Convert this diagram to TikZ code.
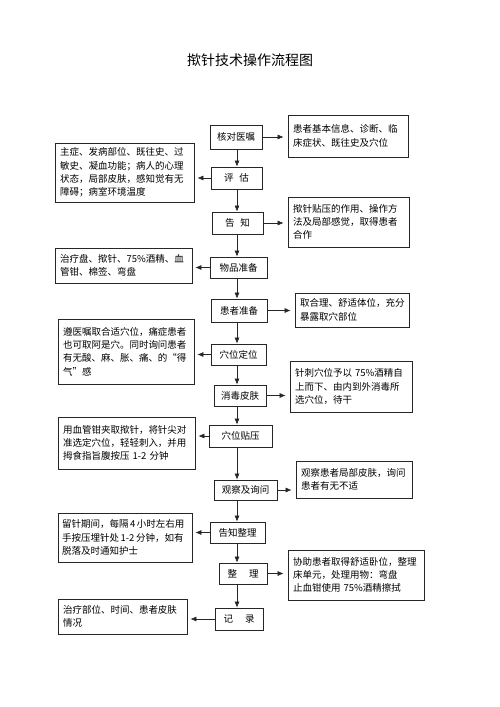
\documentclass[tikz,border=0pt]{standalone}
\usepackage{fontspec}
\setmainfont{Noto Sans CJK SC}
\usetikzlibrary{arrows.meta}

\begin{document}
\begin{tikzpicture}[
  x=1pt, y=-1pt,
  stepbox/.style={draw=black!85, line width=0.8pt, inner sep=0pt, align=center,
                  font=\fontsize{9.5}{12}\selectfont},
  notebox/.style={draw=black!85, line width=0.8pt, inner xsep=5pt, inner ysep=0pt,
                  align=left, font=\fontsize{9.5}{13.3}\selectfont},
  arr/.style={-{Latex[length=6pt, width=5pt]}, line width=0.6pt, black!85},
]
  \useasboundingbox (0,0) rectangle (500,707);
  \coordinate (col) at (237,0);

  % Title
  \node[font=\fontsize{14}{16}\selectfont] (title) at (250,60) {揿针技术操作流程图};

  % Main steps
  \node[stepbox, minimum width=52pt, minimum height=24pt] (check) at (236,137) {核对医嘱};
  \node[stepbox, minimum width=51pt, minimum height=22pt] (assess) at (236.5,178) {评\hspace{6pt}估};
  \node[stepbox, minimum width=51pt, minimum height=22pt] (inform) at (237.5,223) {告\hspace{6pt}知};
  \node[stepbox, minimum width=57pt, minimum height=21pt] (items) at (238.5,267.5) {物品准备};
  \node[stepbox, minimum width=56pt, minimum height=23pt] (patient) at (239,310.5) {患者准备};
  \node[stepbox, minimum width=55pt, minimum height=21pt] (locate) at (238.5,354.5) {穴位定位};
  \node[stepbox, minimum width=52pt, minimum height=21pt] (disinfect) at (240,395.5) {消毒皮肤};
  \node[stepbox, minimum width=63pt, minimum height=22pt] (press) at (240.5,436) {穴位贴压};
  \node[stepbox, minimum width=63pt, minimum height=20pt] (observe) at (245.5,490) {观察及询问};
  \node[stepbox, minimum width=55pt, minimum height=21pt] (notify) at (237.5,532.5) {告知整理};
  \node[stepbox, minimum width=48pt, minimum height=21pt] (tidy) at (243,573.5) {整\hspace{12pt}理};
  \node[stepbox, minimum width=48pt, minimum height=22pt] (record) at (239,619) {记\hspace{12pt}录};

  % Notes on the right
  \node[notebox, text width=110pt, minimum height=42pt] (checknote) at (348,136) {
    患者基本信息、诊断、临\\
    床症状、既往史及穴位};
  \node[notebox, text width=111pt, minimum height=50pt] (informnote) at (348.5,222) {
    揿针贴压的作用、操作方\\
    法及局部感觉，取得患者\\
    合作};
  \node[notebox, text width=104pt, minimum height=34pt] (patientnote) at (352,310) {
    取合理、舒适体位，充分\\
    暴露取穴部位};
  \node[notebox, text width=112pt, minimum height=51pt] (disinfectnote) at (351,386.5) {
    针刺穴位予以~75\%酒精自\\
    上而下、由内到外消毒所\\
    选穴位，待干};
  \node[notebox, text width=106pt, minimum height=37pt] (observenote) at (354,479.5) {
    观察患者局部皮肤，询问\\
    患者有无不适};
  \node[notebox, text width=126pt, minimum height=50pt] (tidynote) at (356,575) {
    协助患者取得舒适卧位，整理\\
    床单元，处理用物：弯盘\\
    止血钳使用~75\%酒精擦拭};

  % Notes on the left
  \node[notebox, text width=129pt, minimum height=59pt] (assessnote) at (124.5,172.5) {
    主症、发病部位、既往史、过\\
    敏史、凝血功能；病人的心理\\
    状态，局部皮肤，感知觉有无\\
    障碍；病室环境温度};
  \node[notebox, text width=127pt, minimum height=35pt] (itemsnote) at (123.5,265.5) {
    治疗盘、揿针、75\%酒精、血\\
    管钳、棉签、弯盘};
  \node[notebox, text width=126pt, minimum height=65pt] (locatenote) at (126,351.5) {
    遵医嘱取合适穴位，痛症患者\\
    也可取阿是穴。同时询问患者\\
    有无酸、麻、胀、痛、的“得\\
    气”感};
  \node[notebox, text width=127pt, minimum height=52pt] (pressnote) at (126.5,443) {
    用血管钳夹取揿针，将针尖对\\
    准选定穴位，轻轻刺入，并用\\
    拇食指旨腹按压~1-2~分钟};
  \node[notebox, inner xsep=4pt, text width=126pt, minimum height=49pt] (notifynote) at (125,537.5) {
    留针期间，每隔\,4\,小时左右用\\
    手按压埋针处\,1-2\,分钟，如有\\
    脱落及时通知护士};
  \node[notebox, text width=119pt, minimum height=35pt] (recordnote) at (122.5,616.5) {
    治疗部位、时间、患者皮肤\\
    情况};

  % Flow down the middle
  \draw[arr] (check.south -| col) -- (assess.north -| col);
  \draw[arr] (assess.south -| col) -- (inform.north -| col);
  \draw[arr] (inform.south -| col) -- (items.north -| col);
  \draw[arr] (items.south -| col) -- (patient.north -| col);
  \draw[arr] (patient.south -| col) -- (locate.north -| col);
  \draw[arr] (locate.south -| col) -- (disinfect.north -| col);
  \draw[arr] (disinfect.south -| col) -- (press.north -| col);
  \draw[arr] (press.south -| col) -- (observe.north -| col);
  \draw[arr] (observe.south -| col) -- (notify.north -| col);
  \draw[arr] (notify.south -| col) -- (tidy.north -| col);
  \draw[arr] (tidy.south -| col) -- (record.north -| col);

  % Side arrows
  \draw[arr, shorten >=4pt] (check.east) -- (check.east -| checknote.west);
  \draw[arr, shorten >=4pt] (inform.east) -- (inform.east -| informnote.west);
  \draw[arr, shorten >=4pt] (patient.east) -- (patient.east -| patientnote.west);
  \draw[arr, shorten >=4pt] (disinfect.east) -- (disinfect.east -| disinfectnote.west);
  \draw[arr, shorten >=4pt] (observe.east) -- (observe.east -| observenote.west);
  \draw[arr, shorten >=4pt] (tidy.east) -- (tidy.east -| tidynote.west);
  \draw[arr, shorten >=3pt] (assess.west) -- (assess.west -| assessnote.east);
  \draw[arr, shorten >=3pt] (items.west) -- (items.west -| itemsnote.east);
  \draw[arr, shorten >=3pt] (locate.west) -- (locate.west -| locatenote.east);
  \draw[arr, shorten >=3pt] (press.west) -- (press.west -| pressnote.east);
  \draw[arr, shorten >=3pt] (notify.west) -- (notify.west -| notifynote.east);
  \draw[arr, shorten >=3pt] (record.west) -- (record.west -| recordnote.east);

\end{tikzpicture}
\end{document}
